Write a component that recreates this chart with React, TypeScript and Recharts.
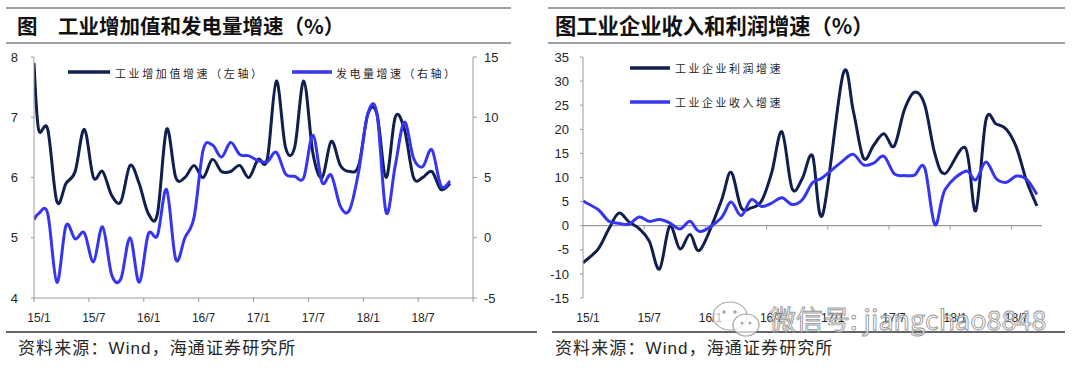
import React from "react";
import { LineChart, Line, XAxis, YAxis, ReferenceLine } from "recharts";

// ---------- categories / tick labels ----------
const TICK_LABELS = ["15/1", "15/7", "16/1", "16/7", "17/1", "17/7", "18/1", "18/7"];
// month index counted from 2015-01 (=0); the base month 2014-12 sits on the axis origin
const BASE_MONTH = -0.5;
const LEFT_TICKS = [-0.5, 5.5, 11.5, 17.5, 23.5, 29.5, 35.5, 41.5, 47.5];
const RIGHT_TICKS = [-0.5, 5.5, 11.5, 17.5, 23.5, 29.5, 35.5, 41.5];

// ---------- left chart: 2014-12 .. 2018-10, every month ----------
const IVA_GROWTH = [
  7.9,
  6.8, 6.8, 5.6, 5.9, 6.1, 6.8, 6.0, 6.1, 5.7, 5.6, 6.2, 5.9,
  5.4, 5.4, 6.8, 6.0, 6.0, 6.2, 6.0, 6.3, 6.1, 6.1, 6.2, 6.0,
  6.3, 6.3, 7.6, 6.5, 6.5, 7.6, 6.4, 6.0, 6.6, 6.2, 6.1, 6.2,
  7.05, 7.05, 6.0, 7.0, 6.8, 6.0, 6.0, 6.1, 5.8, 5.9,
];
const POWER_GROWTH = [
  1.5,
  2.0, 2.0, -3.7, 1.0, -0.1, 0.4, -2.0, 0.9, -3.1, -3.4, 0.0, -3.7,
  0.3, 0.2, 4.0, -1.8, 0.0, 1.7, 7.3, 7.7, 6.7, 7.9, 6.9, 6.8,
  6.4, 6.3, 7.1, 5.3, 5.1, 5.0, 8.5, 4.6, 5.2, 2.6, 2.3, 5.5,
  10.3, 10.3, 2.1, 6.0, 9.6, 6.6, 5.9, 7.3, 4.3, 4.7,
];

// ---------- right chart: 2014-12, then Feb..Dec each year (Jan-Feb combined), to 2018-09 ----------
const PROFIT_GROWTH = [
  -7.7,
  -4.8, -0.8, 2.6, 0.8, -0.6, -3.2, -9.0, -0.1, -4.8, -1.8, -5.0,
  4.8, 11.1, 3.8, 3.7, 5.1, 11.0, 19.5, 7.7, 9.8, 14.5, 2.3,
  31.5, 23.8, 14.0, 16.7, 19.1, 16.5, 24.0, 27.7, 25.1, 14.9, 10.8,
  16.1, 3.1, 21.9, 21.1, 20.0, 16.2, 9.2, 4.1,
];
const INCOME_GROWTH = [
  5.1,
  3.3, 1.0, 0.5, 0.3, 1.8, 0.9, 1.3, 0.6, -0.7, 0.9, -1.2,
  1.5, 4.9, 2.1, 5.4, 4.0, 4.7, 5.8, 4.4, 5.4, 8.9, 10.0,
  13.5, 14.8, 12.6, 13.0, 14.4, 10.8, 10.4, 10.5, 12.0, 0.2, 7.5,
  11.3, 9.5, 13.2, 9.8, 9.0, 10.3, 9.6, 6.5,
];

// month positions
const LEFT_MONTHS: number[] = [BASE_MONTH];
for (let m = 0; m < IVA_GROWTH.length - 1; m++) LEFT_MONTHS.push(m);
const RIGHT_MONTHS: number[] = [BASE_MONTH];
for (let y = 0; y < 4; y++) {
  for (let m = 1; m <= 11; m++) {
    if (y === 3 && m > 8) break;
    RIGHT_MONTHS.push(y * 12 + m);
  }
}

const toRows = (xs: number[], vs: number[]) => vs.map((v, i) => ({ x: xs[i], v }));
const ivaRows = toRows(LEFT_MONTHS, IVA_GROWTH);
const powerRows = toRows(LEFT_MONTHS, POWER_GROWTH);
const profitRows = toRows(RIGHT_MONTHS, PROFIT_GROWTH);
const incomeRows = toRows(RIGHT_MONTHS, INCOME_GROWTH);

// Excel-like smoothed line (Catmull-Rom as cubic Bezier)
const smooth = (context: any) => {
  let pts: [number, number][] = [];
  return {
    areaStart() {},
    areaEnd() {},
    lineStart() {
      pts = [];
    },
    point(x: number, y: number) {
      pts.push([+x, +y]);
    },
    lineEnd() {
      const n = pts.length;
      if (!n) return;
      context.moveTo(pts[0][0], pts[0][1]);
      for (let i = 0; i < n - 1; i++) {
        const p0 = pts[i - 1] || pts[i];
        const p1 = pts[i];
        const p2 = pts[i + 1];
        const p3 = pts[i + 2] || pts[i + 1];
        context.bezierCurveTo(
          p1[0] + (p2[0] - p0[0]) / 6,
          p1[1] + (p2[1] - p0[1]) / 6,
          p2[0] - (p3[0] - p1[0]) / 6,
          p2[1] - (p3[1] - p1[1]) / 6,
          p2[0],
          p2[1]
        );
      }
    },
  };
};

const DARK = "#101f4e";
const BLUE = "#3636f2";
const AXIS = "#9a9a9a";
const TEXT = "#262626";
const LATIN = "'Liberation Sans', Arial, sans-serif";
const CJK = "'Noto Sans CJK SC', sans-serif";
const MIXED = "'Liberation Sans', 'Noto Sans CJK SC', sans-serif";

const XTick = (props: any) => {
  const { x, y, index } = props;
  const label = TICK_LABELS[index];
  if (!label) return <g />;
  return (
    <text x={x + 5} y={y} dy="0.71em" textAnchor="middle" fontSize={12} fill={TEXT} fontFamily={LATIN}>
      {label}
    </text>
  );
};

const yTick = { fontSize: 13, fill: TEXT, fontFamily: LATIN };

export default function App() {
  return (
    <div style={{ position: "absolute", left: 0, top: 0, width: 1080, height: 372, background: "#fff", overflow: "hidden" }}>
      <div style={{ position: "absolute", left: 0, top: 0 }}>
        <LineChart width={540} height={372} margin={{ top: 57, right: 27, bottom: 44, left: 0 }}>
          <XAxis
            type="number"
            dataKey="x"
            domain={[-0.5, 47.5]}
            allowDataOverflow
            ticks={LEFT_TICKS}
            interval={0}
            height={30}
            tickSize={4}
            tickMargin={11}
            stroke={AXIS}
            tick={<XTick />}
          />
          <YAxis yAxisId="L" domain={[4, 8]} ticks={[4, 5, 6, 7, 8]} width={34} tickSize={3} tickMargin={13} stroke={AXIS} tick={yTick} interval={0} />
          <YAxis yAxisId="R" orientation="right" domain={[-5, 15]} ticks={[-5, 0, 5, 10, 15]} width={40} tickSize={4} tickMargin={7} stroke={AXIS} tick={yTick} interval={0} />
          <Line yAxisId="L" data={ivaRows} dataKey="v" type={smooth as any} stroke={DARK} strokeWidth={3} dot={false} activeDot={false} isAnimationActive={false} />
          <Line yAxisId="R" data={powerRows} dataKey="v" type={smooth as any} stroke={BLUE} strokeWidth={3} dot={false} activeDot={false} isAnimationActive={false} />
        </LineChart>
      </div>

      <div style={{ position: "absolute", left: 540, top: 0 }}>
        <LineChart width={540} height={372} margin={{ top: 57, right: 38, bottom: 44, left: 0 }}>
          <XAxis
            type="number"
            dataKey="x"
            domain={[-0.5, 44.5]}
            allowDataOverflow
            ticks={RIGHT_TICKS}
            interval={0}
            height={30}
            tickSize={4}
            tickMargin={11}
            axisLine={false}
            tickLine={false}
            tick={<XTick />}
          />
          <YAxis domain={[-15, 35]} ticks={[-15, -10, -5, 0, 5, 10, 15, 20, 25, 30, 35]} width={43} tickSize={3} tickMargin={11} stroke={AXIS} tick={yTick} interval={0} />
          <ReferenceLine y={0} stroke={AXIS} strokeWidth={1.2} />
          {RIGHT_TICKS.slice(1).map((t) => (
            <ReferenceLine key={t} segment={[{ x: t, y: 0 }, { x: t, y: -0.8 }]} stroke={AXIS} />
          ))}
          <Line data={profitRows} dataKey="v" type={smooth as any} stroke={DARK} strokeWidth={3} dot={false} activeDot={false} isAnimationActive={false} />
          <Line data={incomeRows} dataKey="v" type={smooth as any} stroke={BLUE} strokeWidth={3} dot={false} activeDot={false} isAnimationActive={false} />
        </LineChart>
      </div>

      <svg width={1080} height={372} style={{ position: "absolute", left: 0, top: 0, pointerEvents: "none" }}>
        {/* frame lines */}
        <line x1={6} x2={511} y1={8} y2={8} stroke="#808080" strokeWidth={1.6} />
        <line x1={6} x2={511} y1={43} y2={43} stroke="#808080" strokeWidth={1.6} />
        <line x1={548} x2={1065} y1={8} y2={8} stroke="#808080" strokeWidth={1.6} />
        <line x1={548} x2={1065} y1={43} y2={43} stroke="#808080" strokeWidth={1.6} />
        <line x1={6} x2={537} y1={332} y2={332} stroke="#333" strokeWidth={1.3} />
        <line x1={552} x2={1065} y1={332} y2={332} stroke="#333" strokeWidth={1.3} />

        {/* titles */}
        <text x={17} y={34} fontSize={20.5} fontWeight={700} fill="#111" fontFamily={CJK}>
          图　工业增加值和发电量增速（%）
        </text>
        <text x={555} y={34} fontSize={21.3} fontWeight={700} fill="#111" fontFamily={CJK}>
          图工业企业收入和利润增速（%）
        </text>

        {/* legends */}
        <line x1={68} x2={110} y1={72} y2={72} stroke={DARK} strokeWidth={3.5} />
        <text x={115} y={72.5} dominantBaseline="central" fontSize={11} letterSpacing={2.6} fill={TEXT} fontFamily={CJK}>
          工业增加值增速（左轴）
        </text>
        <line x1={292} x2={332} y1={72} y2={72} stroke={BLUE} strokeWidth={3.5} />
        <text x={336} y={72.5} dominantBaseline="central" fontSize={11} letterSpacing={2.5} fill={TEXT} fontFamily={CJK}>
          发电量增速（右轴）
        </text>
        <line x1={630} x2={670} y1={68} y2={68} stroke={DARK} strokeWidth={3.5} />
        <text x={675} y={68} dominantBaseline="central" fontSize={11} letterSpacing={2.5} fill={TEXT} fontFamily={CJK}>
          工业企业利润增速
        </text>
        <line x1={630} x2={670} y1={102} y2={102} stroke={BLUE} strokeWidth={3.5} />
        <text x={675} y={102} dominantBaseline="central" fontSize={11} letterSpacing={2.5} fill={TEXT} fontFamily={CJK}>
          工业企业收入增速
        </text>

        {/* sources */}
        <text x={18} y={354} fontSize={17} letterSpacing={1.1} fill={TEXT} fontFamily={MIXED}>
          资料来源：Wind，海通证券研究所
        </text>
        <text x={555} y={354} fontSize={17} letterSpacing={1.1} fill={TEXT} fontFamily={MIXED}>
          资料来源：Wind，海通证券研究所
        </text>

        {/* watermark */}
        <g opacity={0.85}>
          <ellipse cx={730} cy={316} rx={17} ry={14} fill="rgba(255,255,255,0.8)" stroke="#9a9a9a" strokeWidth={1.2} />
          <ellipse cx={746} cy={325} rx={13} ry={11} fill="rgba(255,255,255,0.8)" stroke="#9a9a9a" strokeWidth={1.2} />
          <circle cx={724} cy={312} r={1.8} fill="#9a9a9a" />
          <circle cx={735} cy={312} r={1.8} fill="#9a9a9a" />
          <circle cx={742} cy={323} r={1.5} fill="#9a9a9a" />
          <circle cx={750} cy={323} r={1.5} fill="#9a9a9a" />
          <text x={769} y={330} fontSize={27} fill="rgba(255,255,255,0.75)" stroke="#858585" strokeWidth={0.9} fontFamily={CJK}>
            微信号: jiangchao8848
          </text>
        </g>
      </svg>
    </div>
  );
}
